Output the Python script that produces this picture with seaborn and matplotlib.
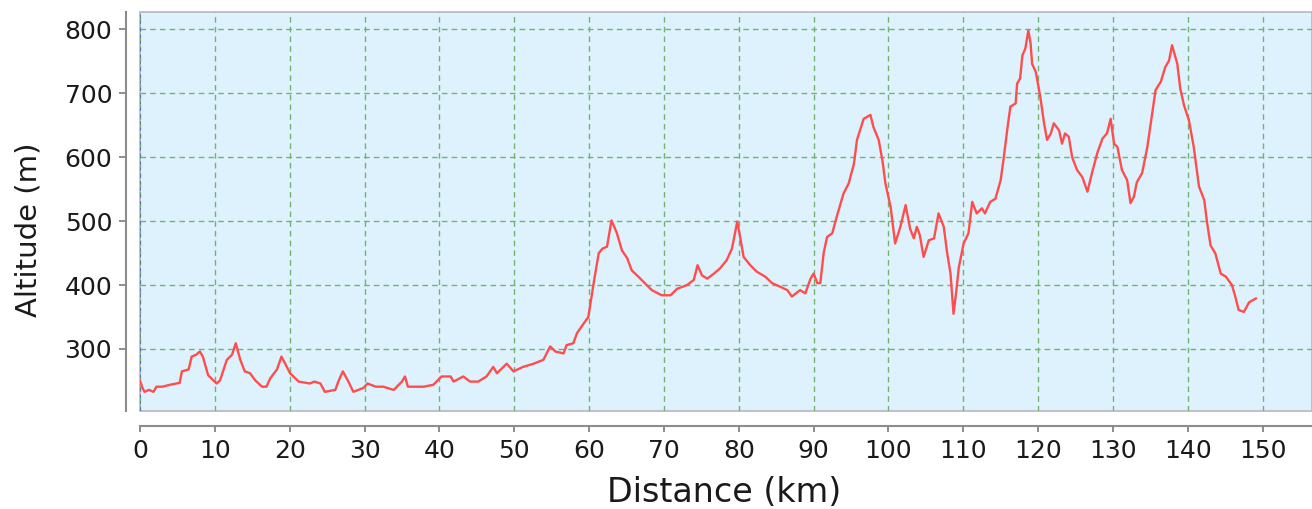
import matplotlib
matplotlib.use('Agg')
import pandas as pd
import matplotlib.pyplot as plt
import seaborn as sns

# Elevation profile
distance_km = [
    0.0, 0.3, 0.6, 1.2, 1.8, 2.2, 3.0, 4.0, 5.3, 5.6, 6.5, 6.9, 7.5, 8.0, 8.4, 9.1, 9.7,
    10.25, 10.7, 11.6, 12.3, 12.8, 13.4, 14.0, 14.7, 15.4, 16.3, 16.9, 17.4, 18.3, 18.9,
    19.4, 20.05, 21.2, 22.7, 23.3, 24.1, 24.7, 26.1, 26.5, 27.1, 27.85, 28.5, 29.85, 30.4,
    31.5, 32.5, 33.9, 35.0, 35.4, 35.8, 37.9, 39.2, 40.3, 41.5, 41.9, 43.2, 44.1, 45.2,
    46.3, 47.2, 47.7, 49.0, 49.9, 51.2, 52.6, 53.9, 54.8, 55.5, 56.6, 57.0, 57.9, 58.4,
    59.3, 59.9, 60.4, 60.8, 61.3, 61.8, 62.4, 63.0, 63.7, 64.4, 65.1, 65.7, 66.6, 67.7,
    68.4, 69.7, 70.9, 71.75, 73.1, 74.0, 74.5, 75.1, 75.8, 76.7, 77.5, 78.4, 79.1, 79.8,
    80.1, 80.65, 81.55, 82.4, 83.55, 84.45, 85.6, 86.5, 87.1, 88.2, 88.9, 89.6, 90.0,
    90.5, 90.9, 91.35, 91.8, 92.5, 93.1, 94.0, 94.7, 95.4, 95.8, 96.7, 97.6, 98.0, 98.7,
    99.2, 99.6, 100.3, 100.9, 101.6, 102.3, 102.9, 103.4, 103.8, 104.2, 104.7, 105.4,
    106.1, 106.7, 107.4, 107.85, 108.3, 108.7, 109.05, 109.4, 110.05, 110.7, 111.2, 111.8,
    112.5, 112.9, 113.6, 114.3, 115.0, 115.4, 115.9, 116.3, 117.0, 117.2, 117.6, 117.9,
    118.3, 118.7, 119.0, 119.2, 119.7, 120.3, 120.8, 121.2, 121.7, 122.1, 122.8, 123.2,
    123.6, 124.1, 124.55, 125.2, 125.9, 126.6, 127.2, 127.9, 128.6, 129.2, 129.7, 130.15,
    130.6, 131.2, 131.9, 132.35, 132.8, 133.2, 133.9, 134.6, 135.25, 135.7, 136.4, 137.0,
    137.5, 137.9, 138.6, 139.0, 139.5, 140.15, 140.8, 141.5, 142.2, 142.6, 143.05, 143.7,
    144.4, 145.1, 145.9, 146.35, 146.8, 147.5, 148.2, 149.1,
]
altitude_m = [
    250, 240, 233, 236, 233, 241, 241, 244, 247, 265, 268, 288, 291, 296, 288, 259, 252,
    246, 251, 283, 291, 309, 283, 265, 262, 251, 241, 241, 254, 268, 288,
    277, 262, 249, 246, 249, 246, 233, 236, 249, 265, 249, 233, 239, 246,
    241, 241, 236, 249, 257, 241, 241, 244, 257, 257, 249, 257, 249, 249,
    257, 272, 262, 277, 265, 272, 277, 283, 304, 296, 293, 306, 309, 325,
    340, 350, 387, 416, 450, 457, 460, 501, 482, 454, 442, 423, 413, 400,
    392, 384, 384, 394, 400, 408, 431, 415, 410, 418, 426, 439, 457, 499,
    481, 444, 431, 421, 413, 403, 397, 392, 382, 392, 387, 410, 418,
    403, 403, 450, 475, 481, 507, 543, 559, 590, 627, 660, 666, 647, 627,
    595, 559, 522, 465, 491, 525, 488, 473, 491, 478, 444, 470,
    473, 512, 491, 450, 418, 355, 388, 427, 465, 481, 530, 512,
    520, 512, 530, 535, 564, 598, 645, 679, 684, 715, 723, 759,
    770, 798, 778, 746, 733, 694, 653, 627, 637, 653, 642, 621,
    637, 632, 600, 580, 569, 546, 575, 606, 629, 637, 660, 621,
    616, 580, 564, 528, 538, 561, 575, 616, 668, 705, 718, 741,
    751, 775, 746, 707, 681, 658, 616, 554, 533, 496, 462, 449,
    418, 413, 400, 382, 361, 358, 373, 379,
]
x_ticks = list(range(0, 151, 10))
y_ticks = list(range(300, 801, 100))

df = pd.DataFrame({'distance': distance_km, 'altitude': altitude_m})

fig = plt.figure(figsize=(13.12, 5.09), dpi=100)
ax = fig.add_axes([140 / 1312, 98 / 509, 1172 / 1312, 399 / 509])

ax.set_facecolor('#ddf2fd')
ax.patch.set_edgecolor('#b8b8b8')
ax.patch.set_linewidth(1.2)
ax.set_axisbelow(True)
ax.grid(True, color='#72b272', linestyle=(0, (4, 3)), linewidth=1)
ax.axvline(0, color='#5566bb', linestyle=(0, (2, 2)), linewidth=1.2, zorder=1.5)

sns.lineplot(data=df, x='distance', y='altitude', ax=ax, color='#ff4d4d',
             linewidth=1.7, sort=False, estimator=None)

ax.set_xlim(0, 156.6)
ax.set_ylim(203, 827)
ax.set_xticks(x_ticks)
ax.set_yticks(y_ticks)

for side in ['top', 'right']:
    ax.spines[side].set_visible(False)
ax.spines['left'].set_position(('outward', 10))
ax.spines['bottom'].set_position(('outward', 11))
for side in ['left', 'bottom']:
    ax.spines[side].set_color('#8c8c8c')
    ax.spines[side].set_linewidth(1.5)

ax.tick_params(axis='both', colors='#8c8c8c', width=1.4, labelsize=18,
               labelcolor='#1a1a1a')
ax.tick_params(axis='y', length=5, pad=5)
ax.tick_params(axis='x', length=4.3, pad=5)

ax.set_xlabel('Distance (km)', fontsize=24, color='#1a1a1a')
ax.set_ylabel('Altitude (m)', fontsize=21, color='#1a1a1a')
ax.xaxis.set_label_coords(0.498, -0.163)
ax.yaxis.set_label_coords(-0.0836, 0.455)

fig.savefig('out.png', dpi=100)
